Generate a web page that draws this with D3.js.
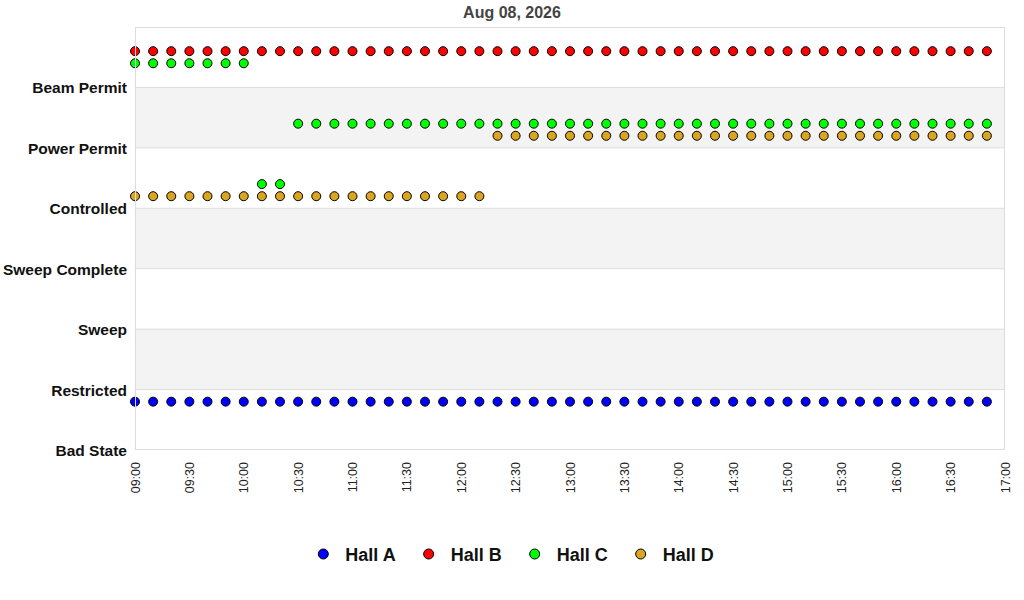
<!DOCTYPE html>
<html>
<head>
<meta charset="utf-8">
<script src="https://cdn.jsdelivr.net/npm/d3@7"></script>
<style>
  body { margin: 0; background: #fff; }
  svg { display: block; font-family: "Liberation Sans", Arial, sans-serif; }
</style>
</head>
<body>
<svg id="chart" width="1024" height="600"></svg>
<script>
// ── data ────────────────────────────────────────────────
const title = 'Aug 08, 2026';
const states = ['Bad State', 'Restricted', 'Sweep', 'Sweep Complete', 'Controlled', 'Power Permit', 'Beam Permit'];
const halls = ['Hall A', 'Hall B', 'Hall C', 'Hall D'];
const hallColors = ['#0000ff', '#ff0000', '#00ff00', '#daa520'];

const times = [
  '09:00','09:10','09:20','09:30','09:40','09:50','10:00','10:10','10:20','10:30','10:40','10:50',
  '11:00','11:10','11:20','11:30','11:40','11:50','12:00','12:10','12:20','12:30','12:40','12:50',
  '13:00','13:10','13:20','13:30','13:40','13:50','14:00','14:10','14:20','14:30','14:40','14:50',
  '15:00','15:10','15:20','15:30','15:40','15:50','16:00','16:10','16:20','16:30','16:40','16:50'
];

// state index per time slot (0 = Bad State … 6 = Beam Permit)
const hallA = [0,0,0,0,0,0,0,0,0,0,0,0, 0,0,0,0,0,0,0,0,0,0,0,0, 0,0,0,0,0,0,0,0,0,0,0,0, 0,0,0,0,0,0,0,0,0,0,0,0];
const hallB = [6,6,6,6,6,6,6,6,6,6,6,6, 6,6,6,6,6,6,6,6,6,6,6,6, 6,6,6,6,6,6,6,6,6,6,6,6, 6,6,6,6,6,6,6,6,6,6,6,6];
const hallC = [6,6,6,6,6,6,6,4,4,5,5,5, 5,5,5,5,5,5,5,5,5,5,5,5, 5,5,5,5,5,5,5,5,5,5,5,5, 5,5,5,5,5,5,5,5,5,5,5,5];
const hallD = [4,4,4,4,4,4,4,4,4,4,4,4, 4,4,4,4,4,4,4,4,5,5,5,5, 5,5,5,5,5,5,5,5,5,5,5,5, 5,5,5,5,5,5,5,5,5,5,5,5];
const series = [hallA, hallB, hallC, hallD];

const xStart = '09:00', xEnd = '17:00';

// ── layout ──────────────────────────────────────────────
const margin = { left: 135, right: 19, top: 27, bottom: 150 };
const W = 1024, H = 600;
const pw = W - margin.left - margin.right;
const ph = H - margin.top - margin.bottom;

const parse = d3.timeParse('%H:%M');
const x = d3.scaleTime().domain([parse(xStart), parse(xEnd)]).range([margin.left, margin.left + pw]);
const y = d3.scaleLinear().domain([0, states.length]).range([margin.top + ph, margin.top]);

const svg = d3.select('#chart');

// alternating bands
svg.append('g').selectAll('rect')
  .data(d3.range(states.length))
  .enter().append('rect')
  .attr('x', margin.left)
  .attr('width', pw)
  .attr('y', i => y(i + 1))
  .attr('height', i => y(i) - y(i + 1))
  .attr('fill', i => (i % 2 === 1) ? '#f3f3f3' : '#ffffff');

// horizontal grid lines
svg.append('g').selectAll('line')
  .data(d3.range(1, states.length))
  .enter().append('line')
  .attr('x1', margin.left).attr('x2', margin.left + pw)
  .attr('y1', i => y(i)).attr('y2', i => y(i))
  .attr('stroke', '#dddddd').attr('stroke-width', 1);

// y labels
svg.append('g').selectAll('text')
  .data(states)
  .enter().append('text')
  .attr('x', margin.left - 8)
  .attr('y', (d, i) => y(i) + 6)
  .attr('text-anchor', 'end')
  .attr('font-size', '15.5px')
  .attr('font-weight', 'bold')
  .attr('fill', '#111')
  .text(d => d);

// points — halls stacked inside the band above their state line
const offsets = [0.8, 0.6, 0.4, 0.2];
series.forEach((vals, h) => {
  svg.append('g').selectAll('circle')
    .data(vals)
    .enter().append('circle')
    .attr('cx', (d, i) => x(parse(times[i])))
    .attr('cy', d => y(d + offsets[h]))
    .attr('r', 4.5)
    .attr('fill', hallColors[h])
    .attr('stroke', '#000')
    .attr('stroke-width', 1);
});

// frame
svg.append('rect')
  .attr('x', margin.left + 0.5).attr('y', margin.top + 0.5)
  .attr('width', pw - 1).attr('height', ph - 1)
  .attr('fill', 'none')
  .attr('stroke', '#dddddd');

// x axis labels
const ticks = x.ticks(d3.timeMinute.every(30));
svg.append('g').selectAll('text')
  .data(ticks)
  .enter().append('text')
  .attr('transform', d => `translate(${x(d) + 4.5},${margin.top + ph + 12}) rotate(-90)`)
  .attr('text-anchor', 'end')
  .attr('font-size', '12.5px')
  .attr('fill', '#222')
  .text(d => d3.timeFormat('%H:%M')(d));

// title
svg.append('text')
  .attr('x', W / 2).attr('y', 18)
  .attr('text-anchor', 'middle')
  .attr('font-size', '16px')
  .attr('font-weight', 'bold')
  .attr('fill', '#444')
  .text(title);

// legend
const leg = svg.append('g');
let lx = 0;
halls.forEach((name, i) => {
  const g = leg.append('g');
  g.append('circle').attr('cx', 5).attr('cy', 0).attr('r', 5)
    .attr('fill', hallColors[i]).attr('stroke', '#000').attr('stroke-width', 1);
  const t = g.append('text').attr('x', 27).attr('y', 6.5)
    .attr('font-size', '18px').attr('font-weight', 'bold').attr('fill', '#111')
    .text(name);
  const w = 27 + t.node().getComputedTextLength();
  g.attr('transform', `translate(${lx},0)`);
  lx += w + 28;
});
const legW = lx - 28;
leg.attr('transform', `translate(${(W - legW) / 2 + 4},554)`);
</script>
</body>
</html>
